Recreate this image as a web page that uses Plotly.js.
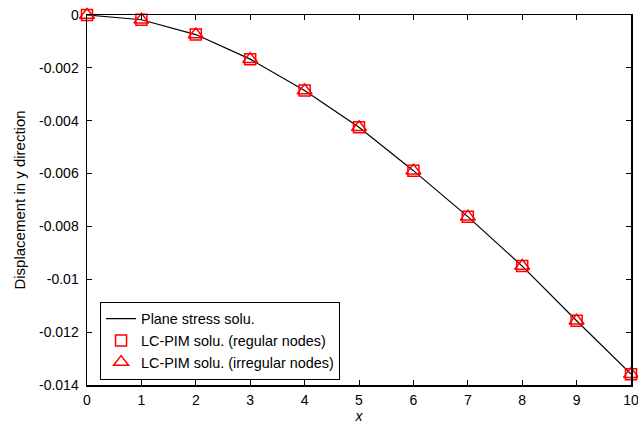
<!DOCTYPE html>
<html>
<head>
<meta charset="utf-8">
<script src="https://cdn.plot.ly/plotly-3.0.1.min.js"></script>
<style>html,body{margin:0;padding:0;background:#fff;}#chart{width:638px;height:424px;}</style>
</head>
<body>
<div id="chart"></div>
<script>
// Data
const xNodes = [0, 1, 2, 3, 4, 5, 6, 7, 8, 9, 10];
const planeStress = [0, -0.00018, -0.00074, -0.00167, -0.00286, -0.00425, -0.00589, -0.00763, -0.0095, -0.01157, -0.01359];
const lcpimRegular = [0, -0.00018, -0.00074, -0.00167, -0.00286, -0.00425, -0.00589, -0.00763, -0.0095, -0.01157, -0.01359];
const lcpimIrregular = [0, -0.00018, -0.00074, -0.00167, -0.00286, -0.00425, -0.00589, -0.00763, -0.0095, -0.01157, -0.01359];
const yTickVals = [0, -0.002, -0.004, -0.006, -0.008, -0.01, -0.012, -0.014];
const yTickText = ["0", "-0.002", "-0.004", "-0.006", "-0.008", "-0.01", "-0.012", "-0.014"];
const xTickVals = [0, 1, 2, 3, 4, 5, 6, 7, 8, 9, 10];

const FONT = "Liberation Sans, Arial, sans-serif";

const traces = [
  {
    x: xNodes, y: planeStress, mode: "lines", name: "Plane stress solu.",
    line: {color: "#000", width: 1.2}, cliponaxis: false
  },
  {
    x: xNodes, y: lcpimRegular, mode: "markers", name: "LC-PIM solu. (regular nodes)",
    marker: {symbol: "square-open", size: 11, color: "#ff0000", line: {width: 1.5, color: "#ff0000"}},
    cliponaxis: false
  },
  {
    x: xNodes, y: lcpimIrregular, mode: "markers", name: "LC-PIM solu. (irregular nodes)",
    marker: {symbol: "triangle-up-open", size: 13, color: "#ff0000", line: {width: 1.5, color: "#ff0000"}},
    cliponaxis: false
  }
];

const axisCommon = {
  showline: true, linecolor: "#000", linewidth: 1.5, mirror: "ticks",
  ticks: "inside", ticklen: 5, tickwidth: 1, tickcolor: "#000",
  showgrid: false, zeroline: false, ticklabeloverflow: "allow",
  tickfont: {family: FONT, size: 14, color: "#000"}
};

const layout = {
  width: 638, height: 424,
  margin: {l: 87, r: 7, t: 15, b: 39},
  paper_bgcolor: "#fff", plot_bgcolor: "#fff",
  showlegend: true,
  font: {family: FONT, size: 14, color: "#000"},
  xaxis: Object.assign({}, axisCommon, {
    range: [0, 10], tickmode: "array", tickvals: xTickVals,
    ticklabelstandoff: 2,
    title: {text: "<i>x</i>", font: {family: FONT, size: 14, color: "#000"}, standoff: 4}
  }),
  yaxis: Object.assign({}, axisCommon, {
    range: [-0.014, 0], tickmode: "array", tickvals: yTickVals, ticktext: yTickText,
    ticklabelstandoff: 4,
    title: {text: "Displacement in y direction", font: {family: FONT, size: 15, color: "#000"}, standoff: 9}
  }),
  legend: {
    x: 0.024, y: 0.014, xanchor: "left", yanchor: "bottom",
    bgcolor: "#fff", bordercolor: "#000", borderwidth: 1,
    font: {family: FONT, size: 14.4, color: "#000"},
    tracegroupgap: 0, itemwidth: 30
  }
};

Plotly.newPlot("chart", traces, layout, {displayModeBar: false, staticPlot: true});
</script>
</body>
</html>
